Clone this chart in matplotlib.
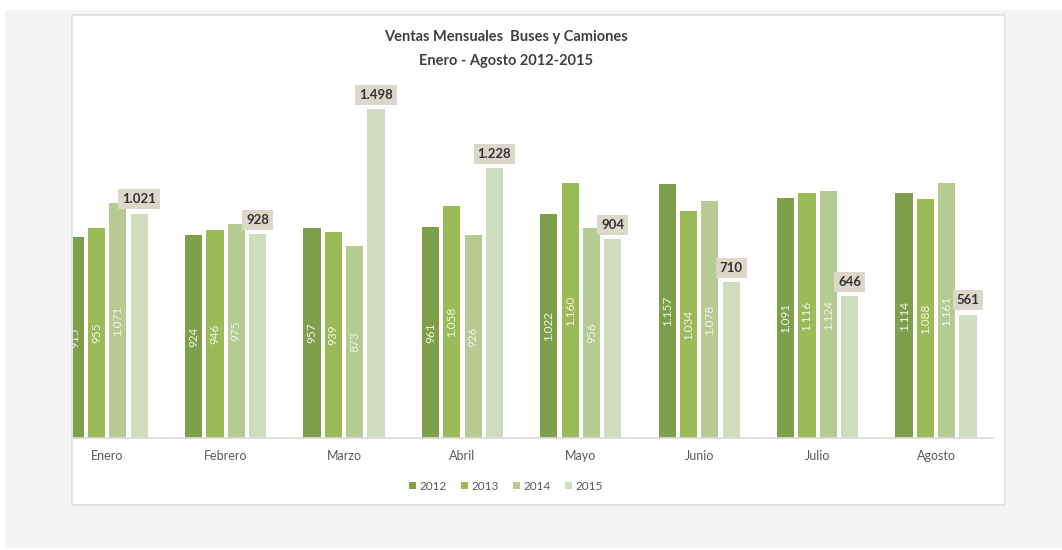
import matplotlib.pyplot as plt
from matplotlib.patches import Rectangle
import numpy as np

plt.rcParams['font.family'] = ['Lato', 'DejaVu Sans']

months = ["Enero", "Febrero", "Marzo", "Abril", "Mayo", "Junio", "Julio", "Agosto"]
years = ["2012", "2013", "2014", "2015"]
sales_2012 = [915, 924, 957, 961, 1022, 1157, 1091, 1114]
sales_2013 = [955, 946, 939, 1058, 1160, 1034, 1116, 1088]
sales_2014 = [1071, 975, 873, 926, 956, 1078, 1124, 1161]
sales_2015 = [1021, 928, 1498, 1228, 904, 710, 646, 561]

colors = ["#7fa04a", "#9bbb59", "#b5cb91", "#cfdcbd"]


def fmt(v):
    return f"{v:,}".replace(",", ".")


fig = plt.figure(figsize=(10.62, 5.5), dpi=100)
fig.patch.set_facecolor("white")

# grey backdrop and the white chart panel on top of it
fig.patches.append(Rectangle((5 / 1062, 2 / 550), 1, 538 / 550, transform=fig.transFigure,
                             facecolor="#f4f4f4", edgecolor="none", zorder=-2))
fig.patches.append(Rectangle((72 / 1062, 45 / 550), 933 / 1062, 490 / 550, transform=fig.transFigure,
                             facecolor="white", edgecolor="#e0e0e0", linewidth=1.2, zorder=-1))

ax = fig.add_axes([73 / 1062, 112 / 550, 920 / 1062, 338 / 550])
ax.set_facecolor("none")
ax.set_zorder(2)

x = np.arange(len(months))
width = 0.145
offsets = [-0.27, -0.09, 0.09, 0.27]
series = [sales_2012, sales_2013, sales_2014, sales_2015]

for vals, off, col, yr in zip(series, offsets, colors, years):
    bars = ax.bar(x + off, vals, width, color=col, label=yr, zorder=2)
    for b, v in zip(bars, vals):
        cx = b.get_x() + b.get_width() / 2
        if yr == "2015":
            ax.text(cx, v + 38, fmt(v), ha="center", va="bottom", fontsize=9.5,
                    fontweight="bold", color="#333333", zorder=4,
                    bbox=dict(boxstyle="square,pad=0.3", facecolor="#dcd8c9",
                              edgecolor="none"))
        else:
            t = ax.text(cx, v / 2, fmt(v), ha="center", va="center", rotation=90,
                        fontsize=8.5, color="#f1f6e6", zorder=3)
            t.set_clip_on(True)

ax.set_xlim(-0.289, 7.481)
ax.set_ylim(0, 1539)

for side in ["top", "right", "left"]:
    ax.spines[side].set_visible(False)
ax.spines["bottom"].set_color("#dadada")
ax.spines["bottom"].set_linewidth(1.2)
ax.set_yticks([])
ax.set_xticks(x)
ax.set_xticklabels(months, fontsize=9, color="#595959")
ax.tick_params(axis="x", length=0, pad=9)

fig.text(506 / 1062, 1 - 37 / 550, "Ventas Mensuales  Buses y Camiones", ha="center",
         va="center", fontsize=10.5, fontweight="bold", color="#404040")
fig.text(506 / 1062, 1 - 61 / 550, "Enero - Agosto 2012-2015", ha="center",
         va="center", fontsize=10.5, fontweight="bold", color="#404040")

leg = fig.legend(loc="center", bbox_to_anchor=(506 / 1062, 1 - 486 / 550), ncol=4,
                 frameon=False, fontsize=8.5, handlelength=0.6, handleheight=0.6,
                 handletextpad=0.3, columnspacing=1.2)
for t in leg.get_texts():
    t.set_color("#595959")

fig.savefig("out.png", dpi=100, facecolor=fig.get_facecolor())
